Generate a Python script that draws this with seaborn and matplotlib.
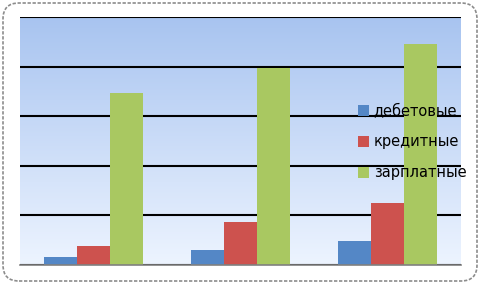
import numpy as np
import pandas as pd
import matplotlib
matplotlib.use("Agg")
import matplotlib.pyplot as plt
import seaborn as sns
from matplotlib.patches import FancyBboxPatch, Patch
from matplotlib.transforms import IdentityTransform
from matplotlib.colors import LinearSegmentedColormap

categories = ["1", "2", "3"]
series = ["дебетовые", "кредитные", "зарплатные"]
debit = [1.6, 3.0, 4.8]
credit = [3.8, 8.6, 12.6]
salary = [34.6, 39.7, 44.5]
colors = ["#5487C6", "#CD524E", "#A9C861"]

df = pd.DataFrame({
    "cat": categories * 3,
    "series": [series[0]] * 3 + [series[1]] * 3 + [series[2]] * 3,
    "val": debit + credit + salary,
})

sns.set_theme(style="white")
plt.rcParams['font.family'] = ['DejaVu Sans']

W, H = 481, 284
fig = plt.figure(figsize=(W / 100, H / 100), dpi=100)
fig.patch.set_facecolor("white")

# rounded border
border = FancyBboxPatch((3, 3), W - 7, H - 6, boxstyle="round,pad=0,rounding_size=16",
                        transform=IdentityTransform(), facecolor="white",
                        edgecolor="#8c8c8c", lw=1.2, linestyle=(0, (2, 1)),
                        zorder=-5)
fig.patches.append(border)

ax = fig.add_axes([20 / W, (H - 265) / H, (461 - 20) / W, (265 - 17) / H])
ax.set_zorder(2)
ax.patch.set_alpha(0)

# gradient background
cmap = LinearSegmentedColormap.from_list("bg", ["#EDF4FF", "#A8C4F0"])
grad = np.linspace(0, 1, 256).reshape(-1, 1)
ax.imshow(grad, cmap=cmap, aspect="auto", extent=[-0.5, 2.5, 0, 50],
          origin="lower", zorder=0)

sns.barplot(data=df, x="cat", y="val", hue="series", palette=colors,
            width=0.667, ax=ax, saturation=1, legend=False, zorder=3,
            edgecolor="none")

ax.set_xlim(-0.5, 2.5)
ax.set_ylim(0, 50)
ax.set_yticks([0, 10, 20, 30, 40, 50])
ax.yaxis.grid(True, color="black", lw=1.5, zorder=1)
ax.set_axisbelow(True)
ax.tick_params(left=False, bottom=False, labelleft=False, labelbottom=False)
ax.set_xlabel("")
ax.set_ylabel("")
for s in ["left", "right", "top"]:
    ax.spines[s].set_visible(False)
ax.spines["bottom"].set_color("#808080")
ax.spines["bottom"].set_linewidth(1.2)
ax.spines["bottom"].set_zorder(5)

handles = [Patch(facecolor=c, edgecolor="none") for c in colors]
leg = fig.legend(handles, series, loc="upper left",
                 bbox_to_anchor=(351 / W, (H - 96) / H), frameon=False,
                 fontsize=10.5, labelspacing=1.1, handlelength=0.75, handleheight=0.75,
                 handletextpad=0.3, borderpad=0, labelcolor="black")
leg.set_zorder(10)

fig.savefig("out.png", dpi=100)
